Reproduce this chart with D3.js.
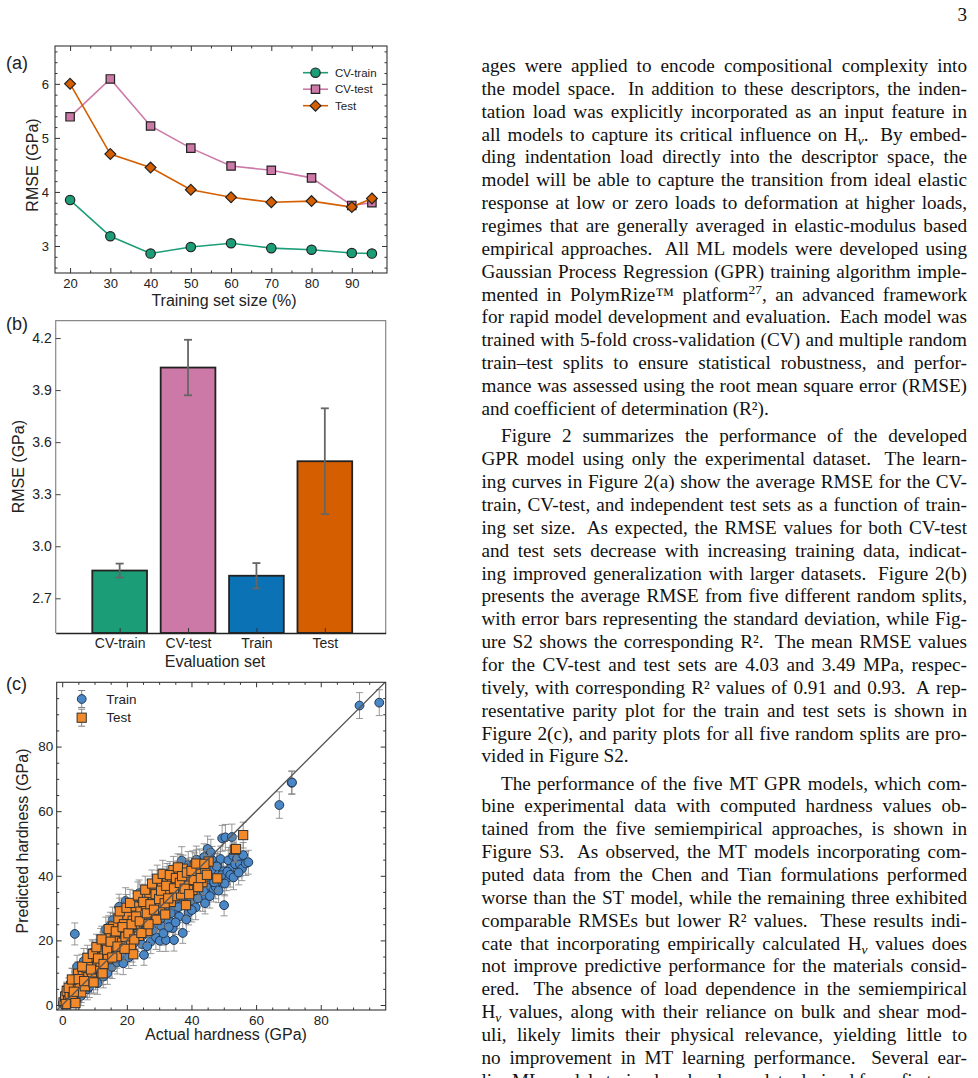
<!DOCTYPE html>
<html>
<head>
<meta charset="utf-8">
<script src="https://cdn.jsdelivr.net/npm/d3@7"></script>
<style>
body{margin:0;background:#fff;width:978px;height:1078px;overflow:hidden}
svg{display:block}
</style>
</head>
<body>
<svg id="page" width="978" height="1078"></svg>
<script>
// ---- data: (a) learning curves
const trainSizes = [20, 30, 40, 50, 60, 70, 80, 90, 95];
const cvTrainRmse = [3.85, 3.18, 2.86, 2.98, 3.05, 2.96, 2.93, 2.87, 2.86];
const cvTestRmse = [5.39, 6.09, 5.22, 4.81, 4.48, 4.40, 4.26, 3.75, 3.80];
const testRmse = [6.00, 4.70, 4.45, 4.04, 3.90, 3.81, 3.83, 3.72, 3.88];

// ---- data: (b) mean RMSE over five splits
const evalSets = ['CV-train', 'CV-test', 'Train', 'Test'];
const evalMean = [2.86, 4.03, 2.83, 3.49];
const evalStd = [0.04, 0.16, 0.073, 0.305];

// ---- data: (c) parity plot  [actual, predicted, std]
const parityTrain = [
 [0.2,0.6,1.2],[0.5,0.2,1.5],[0.9,1.8,2.2],[1.3,0.9,2.6],[1.7,3.1,3.0],[2.1,1.5,2.8],[2.6,4.4,3.2],[3.0,2.2,3.0],[3.5,5.6,3.4],[3.9,22.0,3.4],[4.2,3.4,3.1],[4.6,11.9,3.5],[4.8,6.9,3.6],
 [5.2,4.1,3.2],[5.6,8.4,3.7],[6.1,5.7,3.4],[6.5,10.6,3.8],[6.9,7.2,3.5],[7.3,12.1,3.9],[7.8,4.9,3.3],[8.2,9.3,3.6],[8.7,13.4,4.0],[9.1,6.8,3.4],[9.5,11.0,3.7],[9.9,14.6,4.0],
 [10.3,8.2,3.5],[10.7,12.7,3.8],[11.2,16.3,4.1],[11.6,9.9,3.6],[12.1,14.0,3.9],[12.5,18.4,4.2],[12.9,11.3,3.7],[13.5,23.4,3.8],[13.8,15.6,3.9],[14.2,20.1,4.1],[14.6,12.2,3.6],
 [15.1,17.2,4.0],[15.6,26.3,4.0],[15.9,14.1,3.7],[16.4,21.6,4.1],[16.8,18.3,3.9],[17.3,23.8,4.2],[17.6,30.4,3.9],[18.1,15.8,3.6],[18.5,20.9,4.0],[19.0,27.5,4.1],[19.4,17.7,3.8],[19.8,23.0,4.0],
 [20.3,19.4,3.8],[20.7,28.6,4.1],[21.2,22.1,3.9],[21.6,16.9,3.6],[22.1,25.8,4.0],[22.5,31.2,4.2],[23.0,20.4,3.8],[23.2,28.0,4.0],[23.8,34.6,4.1],[24.2,23.7,3.9],[24.7,18.8,3.7],
 [25.3,15.5,3.2],[25.6,27.1,4.0],[26.1,32.9,4.2],[26.5,22.6,3.9],[27.0,29.4,4.0],[27.4,19.6,3.7],[27.9,35.8,4.1],[28.3,25.2,3.9],[28.8,31.7,4.1],[29.0,21.0,3.8],[29.6,27.9,3.9],[30.0,37.4,4.2],
 [30.2,19.9,3.3],[30.6,24.5,3.8],[31.1,33.4,4.1],[31.5,28.7,3.9],[32.1,20.1,3.5],[32.4,38.6,4.2],[32.9,26.3,3.8],[33.3,31.2,4.0],[33.8,35.7,4.1],[34.2,23.8,3.7],[34.6,20.1,3.4],[34.9,29.6,3.9],
 [35.4,40.3,4.2],[35.8,33.1,4.0],[36.2,27.4,3.8],[36.7,36.9,4.1],[37.0,44.7,4.3],[37.3,22.3,3.2],[37.8,30.9,3.9],[38.2,41.2,4.2],[38.7,34.8,4.0],[39.1,28.6,3.8],[39.6,38.3,4.1],[39.9,32.4,3.9],
 [40.4,43.5,4.2],[40.8,36.1,4.0],[41.3,30.2,3.8],[41.7,40.1,4.1],[42.2,34.5,3.9],[42.6,44.1,4.2],[43.1,38.2,4.0],[43.5,32.8,3.8],[44.0,41.6,4.1],[44.2,31.5,3.3],[44.7,36.4,3.9],[45.0,48.3,4.0],
 [45.5,42.7,4.1],[45.9,38.9,3.9],[46.4,44.9,4.2],[46.8,35.6,3.7],[47.2,40.8,4.0],[47.5,36.5,3.6],[48.1,43.3,4.1],[48.6,38.4,3.8],[49.0,45.2,4.0],[49.5,51.6,4.0],[49.9,41.4,3.9],[50.1,30.9,3.3],
 [50.5,51.9,4.0],[50.9,39.2,3.8],[51.4,44.8,4.0],[51.8,42.1,3.9],[52.5,52.0,4.0],[52.9,46.2,4.0],[53.5,43.6,3.8],[54.1,45.3,3.9],[55.0,43.5,3.8],[55.6,42.2,3.7],[56.0,46.4,3.9],[56.8,43.8,3.7],[57.6,44.2,3.7],
 [1.0,3.5,2.5],[2.0,0.5,2.4],[3.2,7.8,3.5],[4.4,1.5,2.8],[5.8,2.8,3.0],[6.7,13.6,3.9],[7.6,9.8,3.7],[8.4,5.6,3.3],[9.3,16.2,4.0],[10.1,11.1,3.8],[10.9,6.7,3.4],[11.9,19.6,4.1],
 [12.7,8.8,3.5],[13.2,17.4,4.0],[14.0,9.9,3.5],[14.9,24.6,4.1],[15.4,11.8,3.6],[16.1,19.0,3.9],[17.0,13.2,3.6],[18.3,25.1,4.1],[18.9,12.9,3.5],[19.6,32.2,4.1],[20.6,14.8,3.5],[21.4,26.9,4.0],
 [22.3,19.3,3.7],[23.5,25.9,4.0],[24.4,30.8,4.1],[25.0,21.6,3.8],[26.3,18.2,3.6],[26.9,30.6,4.1],[28.0,23.1,3.8],[29.3,33.9,4.1],[30.4,26.8,3.9],[31.3,22.2,3.7],[31.8,36.3,4.2],[33.0,24.1,3.8],
 [33.6,28.4,3.9],[34.4,33.0,4.0],[35.1,25.6,3.8],[36.0,30.3,3.9],[36.5,42.4,4.2],[37.6,35.6,4.0],[38.4,26.5,3.7],[39.3,36.6,4.0],[40.1,29.4,3.7],[41.0,38.6,4.0],[41.9,33.0,3.8],[42.9,40.8,4.1],
 [43.8,35.2,3.9],[44.6,39.5,4.0],[45.7,33.7,3.7],[46.2,41.9,4.0],[47.0,38.0,3.8],[47.8,42.9,4.0],[48.4,35.4,3.7],[49.3,40.2,3.9],[50.3,37.6,3.8],[51.1,41.3,3.9],[52.0,40.3,3.8],[53.0,39.5,3.8],
 [54.6,41.0,3.8],[46.0,47.2,4.1],[43.9,45.8,4.1],[41.5,45.0,4.2],[39.0,43.3,4.2],
 [67.2,61.9,4.1],[71.0,68.8,3.6],[71.1,68.9,3.5],[92.0,92.7,4.0],[98.1,93.6,4.0]
];
const parityTest = [
 [0.4,0.8,1.5],[0.9,2.6,2.2],[1.4,4.3,2.8],[1.8,1.2,2.5],[2.3,3.5,3.0],[2.8,5.9,3.3],[3.3,2.4,3.0],[3.8,6.8,3.4],[4.1,0.6,2.6],[4.5,4.9,3.2],[4.9,9.7,3.7],
 [5.4,6.3,3.4],[5.9,3.9,3.1],[6.4,9.0,3.6],[7.0,5.8,3.3],[7.5,11.4,3.8],[8.1,8.6,3.5],[8.6,13.2,3.9],[9.2,10.1,3.6],[9.7,7.0,3.3],
 [10.3,14.9,3.9],[10.8,11.7,3.7],[11.4,17.6,4.0],[11.9,13.4,3.8],[12.5,9.8,3.5],[13.0,16.0,3.9],[13.6,19.5,4.0],[14.1,14.2,3.8],[14.7,21.7,4.1],
 [15.2,17.7,3.9],[15.8,24.3,4.1],[16.3,20.2,4.0],[16.9,15.1,3.7],[17.4,26.8,4.1],[18.0,22.6,4.0],[18.5,19.3,3.8],[19.1,25.0,4.0],[19.6,21.1,3.9],
 [20.2,27.9,4.1],[20.7,23.6,4.0],[21.3,18.4,3.7],[21.8,26.1,4.0],[22.0,15.7,3.5],[22.6,30.5,4.1],[23.1,24.8,4.0],[23.7,21.4,3.8],[24.2,28.9,4.1],[24.8,33.2,4.2],
 [25.3,25.7,4.0],[25.9,30.7,4.1],[26.4,22.9,3.9],[27.0,34.5,4.2],[27.5,28.3,4.0],[28.1,31.8,4.1],[28.6,36.2,4.2],[29.2,26.4,3.9],[29.7,33.6,4.1],
 [30.3,30.2,4.0],[30.8,37.9,4.2],[31.4,34.1,4.1],[31.9,28.0,3.9],[32.5,39.6,4.2],[33.0,35.4,4.1],[33.6,31.9,4.0],[34.0,38.3,4.1],[34.4,41.8,4.2],[34.9,33.7,4.0],
 [35.5,36.8,4.1],[36.1,40.4,4.2],[36.8,34.2,4.0],[37.4,42.2,4.2],[38.3,30.9,3.8],[38.9,37.5,4.1],[39.6,39.8,4.1],[40.3,35.6,4.0],[41.0,42.9,4.2],[41.8,37.2,4.0],[42.5,40.6,4.1],[43.4,38.0,4.0],[44.3,42.1,4.1],[45.3,44.4,4.2],[48.0,39.2,3.9],
 [1.1,0.3,2.0],[2.0,5.3,3.1],[3.0,7.9,3.5],[3.6,4.1,3.1],[5.1,8.0,3.5],[6.2,11.9,3.8],[6.8,7.4,3.4],[7.8,14.6,3.9],[8.9,11.0,3.7],[9.5,15.8,4.0],[10.6,17.9,4.0],[11.1,14.4,3.8],
 [12.2,20.3,4.1],[12.8,12.7,3.7],[13.9,17.1,3.9],[14.4,23.5,4.1],[15.0,19.6,4.0],[15.5,14.7,3.7],[16.6,22.8,4.0],[17.1,18.1,3.8],[17.8,29.0,4.1],[18.7,24.1,4.0],[19.3,17.4,3.8],[19.9,30.1,4.1],
 [20.5,22.2,3.9],[21.0,31.6,4.2],[21.5,25.0,4.0],[22.3,20.3,3.8],[22.9,27.4,4.0],[23.4,33.9,4.2],[24.0,25.9,4.0],[24.5,22.3,3.8],[25.1,31.9,4.1],[25.7,35.7,4.2],[26.2,28.4,4.0],[26.7,25.0,3.9],
 [27.3,31.2,4.1],[27.8,37.6,4.2],[28.4,29.5,4.0],[28.9,34.3,4.1],[29.4,39.1,4.2],[30.0,32.8,4.1],[30.6,35.4,4.1],[31.1,40.6,4.2],[31.7,31.5,4.0],[32.2,36.9,4.1],[32.8,33.0,4.0],[33.3,40.2,4.2],
 [34.6,36.1,4.1],[35.2,39.3,4.1],[35.8,42.6,4.2],[36.4,37.8,4.1],[37.1,39.9,4.1],[37.9,36.0,4.0],[38.6,41.0,4.1],[39.3,34.3,4.0],[40.0,41.5,4.1],[40.7,38.7,4.0],[41.5,43.8,4.2],[42.1,36.5,4.0],
 [42.9,39.3,4.0],[44.0,43.7,4.1],[44.8,40.3,4.0],
 [53.4,48.1,4.0],[53.8,48.3,4.0],[56.0,52.6,4.0]
];

// ---- page text (one entry per printed line, _{..} subscript, ^{..} superscript)
const para1 = [
 'ages were applied to encode compositional complexity into',
 'the model space.  In addition to these descriptors, the inden-',
 'tation load was explicitly incorporated as an input feature in',
 'all models to capture its critical influence on H_{ν}.  By embed-',
 'ding indentation load directly into the descriptor space, the',
 'model will be able to capture the transition from ideal elastic',
 'response at low or zero loads to deformation at higher loads,',
 'regimes that are generally averaged in elastic-modulus based',
 'empirical approaches.  All ML models were developed using',
 'Gaussian Process Regression (GPR) training algorithm imple-',
 'mented in PolymRize™ platform^{27}, an advanced framework',
 'for rapid model development and evaluation.  Each model was',
 'trained with 5-fold cross-validation (CV) and multiple random',
 'train–test splits to ensure statistical robustness, and perfor-',
 'mance was assessed using the root mean square error (RMSE)',
 'and coefficient of determination (R²).'
];
const para2 = [
 'Figure 2 summarizes the performance of the developed',
 'GPR model using only the experimental dataset.  The learn-',
 'ing curves in Figure 2(a) show the average RMSE for the CV-',
 'train, CV-test, and independent test sets as a function of train-',
 'ing set size.  As expected, the RMSE values for both CV-test',
 'and test sets decrease with increasing training data, indicat-',
 'ing improved generalization with larger datasets.  Figure 2(b)',
 'presents the average RMSE from five different random splits,',
 'with error bars representing the standard deviation, while Fig-',
 'ure S2 shows the corresponding R².  The mean RMSE values',
 'for the CV-test and test sets are 4.03 and 3.49 MPa, respec-',
 'tively, with corresponding R² values of 0.91 and 0.93.  A rep-',
 'resentative parity plot for the train and test sets is shown in',
 'Figure 2(c), and parity plots for all five random splits are pro-',
 'vided in Figure S2.'
];
const para3 = [
 'The performance of the five MT GPR models, which com-',
 'bine experimental data with computed hardness values ob-',
 'tained from the five semiempirical approaches, is shown in',
 'Figure S3.  As observed, the MT models incorporating com-',
 'puted data from the Chen and Tian formulations performed',
 'worse than the ST model, while the remaining three exhibited',
 'comparable RMSEs but lower R² values.  These results indi-',
 'cate that incorporating empirically calculated H_{ν} values does',
 'not improve predictive performance for the materials consid-',
 'ered.  The absence of load dependence in the semiempirical',
 'H_{ν} values, along with their reliance on bulk and shear mod-',
 'uli, likely limits their physical relevance, yielding little to',
 'no improvement in MT learning performance.  Several ear-',
 'lier ML models trained on hardness data derived from first'
];

const sans = "'Liberation Sans', Arial, Helvetica, sans-serif";
const serif = "'Liberation Serif', 'Times New Roman', serif";
const svg = d3.select('#page');

//inward ticks on the four sides of a box, labels on bottom and left only
function boxAxes(g, x, y, o) {
	const xr = x.range(), yr = y.range();
	const sides = [
		{f: d3.axisBottom, s: x, t: `translate(0,${yr[0]})`, lab: true, pad: o.xPad, ticks: o.xTicks, minor: o.xMinor, fmt: o.xFmt},
		{f: d3.axisTop, s: x, t: `translate(0,${yr[1]})`, lab: false, ticks: o.xTicks, minor: o.xMinor},
		{f: d3.axisLeft, s: y, t: `translate(${xr[0]},0)`, lab: true, pad: o.yPad, ticks: o.yTicks, minor: o.yMinor, fmt: o.yFmt},
		{f: d3.axisRight, s: y, t: `translate(${xr[1]},0)`, lab: false, ticks: o.yTicks, minor: o.yMinor}
	];
	sides.forEach(d => {
		if (d.minor) {
			g.append('g').attr('transform', d.t)
				.call(d.f(d.s).tickValues(d.minor).tickSizeInner(-2.5).tickSizeOuter(0).tickFormat(''))
				.attr('color', '#333')
				.call(s => s.select('.domain').remove());
		}
		const ax = g.append('g').attr('transform', d.t)
			.call(d.f(d.s).tickValues(d.ticks).tickSizeInner(-5).tickSizeOuter(0)
				.tickPadding(d.lab ? d.pad : 0).tickFormat(d.lab ? d.fmt : () => ''))
			.attr('color', '#333')
			.attr('font-family', sans)
			.attr('font-size', o.fs);
		ax.select('.domain').remove();
		ax.selectAll('text').attr('fill', '#222');
	});
	g.append('rect')
		.attr('x', xr[0]).attr('y', yr[1])
		.attr('width', xr[1] - xr[0]).attr('height', yr[0] - yr[1])
		.attr('fill', 'none').attr('stroke', '#333').attr('stroke-width', 1.1);
}

function axisTitle(g, txt, x, y, rot, fs) {
	g.append('text')
		.attr('transform', `translate(${x},${y})` + (rot ? ' rotate(-90)' : ''))
		.attr('text-anchor', 'middle')
		.attr('font-family', sans)
		.attr('font-size', fs)
		.attr('fill', '#222')
		.text(txt);
}

function panelTag(txt, y) {
	svg.append('text').attr('x', 6).attr('y', y)
		.attr('font-family', sans).attr('font-size', 18).attr('fill', '#222')
		.text(txt);
}

const diamond = 'M0,-5.4L5.4,0L0,5.4L-5.4,0Z';
const square = 'M-4.2,-4.2H4.2V4.2H-4.2Z';

// ================= (a) learning curves =================
const gA = svg.append('g');
const xA = d3.scaleLinear().domain([16.25, 98.75]).range([55, 387]);
const yA = d3.scaleLinear().domain([2.5, 6.7]).range([273, 46]);

boxAxes(gA, xA, yA, {
	xTicks: d3.range(20, 91, 10), xMinor: d3.range(25, 96, 10), xPad: 5.5, xFmt: d3.format('d'),
	yTicks: [3, 4, 5, 6], yMinor: d3.range(2.6, 6.65, 0.2).filter(v => Math.abs(v - Math.round(v)) > 0.05), yPad: 6, yFmt: d3.format('d'),
	fs: 13
});

const seriesA = [
	{name: 'CV-train', vals: cvTrainRmse, color: '#1b9e77', mark: 'circle'},
	{name: 'CV-test', vals: cvTestRmse, color: '#cc79a7', mark: 'square'},
	{name: 'Test', vals: testRmse, color: '#d55e00', mark: 'diamond'}
];
const lineA = d3.line().x((d, i) => xA(trainSizes[i])).y(d => yA(d));

function marker(sel, kind, color) {
	if (kind === 'circle') {
		sel.append('circle').attr('r', 4.7);
	} else {
		sel.append('path').attr('d', kind === 'square' ? square : diamond);
	}
	sel.selectAll('circle,path')
		.attr('fill', color).attr('stroke', '#222').attr('stroke-width', 1.2);
}

seriesA.forEach(s => {
	gA.append('path').datum(s.vals)
		.attr('d', lineA)
		.attr('fill', 'none')
		.attr('stroke', s.color)
		.attr('stroke-width', 1.6);
	gA.selectAll(null).data(s.vals).enter()
		.append('g')
		.attr('transform', (d, i) => `translate(${xA(trainSizes[i])},${yA(d)})`)
		.each(function() { marker(d3.select(this), s.mark, s.color); });
});

//legend
const legA = gA.append('g').attr('transform', 'translate(303,72.7)');
seriesA.forEach((s, i) => {
	const row = legA.append('g').attr('transform', `translate(0,${i * 16.5})`);
	row.append('line').attr('x1', 0).attr('x2', 25).attr('stroke', s.color).attr('stroke-width', 1.6);
	const m = row.append('g').attr('transform', 'translate(12.5,0)');
	marker(m, s.mark, s.color);
	row.append('text').attr('x', 32).attr('dy', '0.35em')
		.attr('font-family', sans).attr('font-size', 11.5).attr('fill', '#222')
		.text(s.name);
});

axisTitle(gA, 'Training set size (%)', 224, 305.5, false, 16);
axisTitle(gA, 'RMSE (GPa)', 37.5, 165, true, 16);
panelTag('(a)', 68.5);

// ================= (b) bar chart =================
const gB = svg.append('g');
const xB = d3.scaleLinear().domain([-0.935, 3.89]).range([55.7, 385.7]);
const yB = d3.scaleLinear().domain([2.5, 4.3]).range([633, 320.7]);
const barColors = ['#1b9e77', '#cc79a7', '#0b72b5', '#d55e00'];
const barW = xB(0.4) - xB(-0.4);

gB.append('path')
	.attr('d', `M55.7,633V320.7H385.7V633`)
	.attr('fill', 'none').attr('stroke', '#888').attr('stroke-width', 1.2);

gB.selectAll('.bar').data(evalMean).enter()
	.append('rect').attr('class', 'bar')
	.attr('x', (d, i) => xB(i) - barW / 2)
	.attr('y', d => yB(d))
	.attr('width', barW)
	.attr('height', d => yB(2.5) - yB(d))
	.attr('fill', (d, i) => barColors[i])
	.attr('stroke', '#222').attr('stroke-width', 1.8);

const errB = gB.selectAll('.err').data(evalMean).enter()
	.append('g').attr('class', 'err')
	.attr('stroke', '#666').attr('stroke-width', 1.8);
errB.append('line')
	.attr('x1', (d, i) => xB(i)).attr('x2', (d, i) => xB(i))
	.attr('y1', (d, i) => yB(d - evalStd[i])).attr('y2', (d, i) => yB(d + evalStd[i]));
errB.append('line')
	.attr('x1', (d, i) => xB(i) - 4).attr('x2', (d, i) => xB(i) + 4)
	.attr('y1', (d, i) => yB(d - evalStd[i])).attr('y2', (d, i) => yB(d - evalStd[i]));
errB.append('line')
	.attr('x1', (d, i) => xB(i) - 4).attr('x2', (d, i) => xB(i) + 4)
	.attr('y1', (d, i) => yB(d + evalStd[i])).attr('y2', (d, i) => yB(d + evalStd[i]));

const axBx = gB.append('g').attr('transform', 'translate(0,633)')
	.call(d3.axisBottom(xB).tickValues([0, 1, 2, 3]).tickSizeInner(-5).tickSizeOuter(0)
		.tickPadding(5).tickFormat(i => evalSets[i]))
	.attr('color', '#333').attr('font-family', sans).attr('font-size', 14);
axBx.select('.domain').attr('stroke', '#222').attr('stroke-width', 1.3);
axBx.selectAll('text').attr('fill', '#222');
const axBy = gB.append('g').attr('transform', 'translate(55.7,0)')
	.call(d3.axisLeft(yB).tickValues([2.7, 3.0, 3.3, 3.6, 3.9, 4.2]).tickSizeInner(-5).tickSizeOuter(0)
		.tickPadding(4).tickFormat(d3.format('.1f')))
	.attr('color', '#444').attr('font-family', sans).attr('font-size', 14);
axBy.select('.domain').remove();
axBy.selectAll('text').attr('fill', '#222');

axisTitle(gB, 'Evaluation set', 215, 667, false, 16);
axisTitle(gB, 'RMSE (GPa)', 23.5, 466.7, true, 16);
panelTag('(b)', 329.5);

// ================= (c) parity plot =================
const gC = svg.append('g');
const xC = d3.scaleLinear().domain([-1.7, 100.1]).range([56.7, 385.7]);
const yC = d3.scaleLinear().domain([-1.55, 99.9]).range([1010, 682.3]);

gC.append('clipPath').attr('id', 'clipC')
	.append('rect').attr('x', 56.7).attr('y', 682.3).attr('width', 329).attr('height', 327.7);
const plotC = gC.append('g').attr('clip-path', 'url(#clipC)');

function errorBars(g, data) {
	const eb = g.append('g').attr('stroke', '#808080').attr('stroke-width', 1).attr('stroke-opacity', 0.8);
	const sel = eb.selectAll('g').data(data).enter().append('g');
	sel.append('line')
		.attr('x1', d => xC(d[0])).attr('x2', d => xC(d[0]))
		.attr('y1', d => yC(d[1] - d[2])).attr('y2', d => yC(d[1] + d[2]));
	[-1, 1].forEach(k => {
		sel.append('line')
			.attr('x1', d => xC(d[0]) - 3.5).attr('x2', d => xC(d[0]) + 3.5)
			.attr('y1', d => yC(d[1] + k * d[2])).attr('y2', d => yC(d[1] + k * d[2]));
	});
}

errorBars(plotC, parityTrain);
plotC.append('g').selectAll('circle').data(parityTrain).enter()
	.append('circle')
	.attr('cx', d => xC(d[0])).attr('cy', d => yC(d[1]))
	.attr('r', 4.4)
	.attr('fill', '#4a87c6').attr('stroke', '#23364f').attr('stroke-width', 1);

errorBars(plotC, parityTest);
plotC.append('g').selectAll('rect').data(parityTest).enter()
	.append('rect')
	.attr('x', d => xC(d[0]) - 4.6).attr('y', d => yC(d[1]) - 4.6)
	.attr('width', 9.2).attr('height', 9.2)
	.attr('fill', '#f28a2b').attr('stroke', '#333').attr('stroke-width', 1);

plotC.append('line')
	.attr('x1', xC(-1.7)).attr('y1', yC(-1.7))
	.attr('x2', xC(100.1)).attr('y2', yC(100.1))
	.attr('stroke', '#555').attr('stroke-width', 1.3);

boxAxes(gC, xC, yC, {
	xTicks: d3.range(0, 81, 20), xMinor: d3.range(5, 100, 5).filter(v => v % 20), xPad: 5.5, xFmt: d3.format('d'),
	yTicks: d3.range(0, 81, 20), yMinor: d3.range(5, 100, 5).filter(v => v % 20), yPad: 3.5, yFmt: d3.format('d'),
	fs: 13.5
});

//legend
const legC = gC.append('g');
[{name: 'Train', y: 699, sq: false}, {name: 'Test', y: 717.7, sq: true}].forEach(l => {
	const r = legC.append('g').attr('transform', `translate(81.7,${l.y})`);
	r.append('line').attr('y1', -8.5).attr('y2', 8.5).attr('stroke', '#808080');
	r.append('line').attr('x1', -3.5).attr('x2', 3.5).attr('y1', -8.5).attr('y2', -8.5).attr('stroke', '#808080');
	r.append('line').attr('x1', -3.5).attr('x2', 3.5).attr('y1', 8.5).attr('y2', 8.5).attr('stroke', '#808080');
	if (l.sq) {
		r.append('rect').attr('x', -4.6).attr('y', -4.6).attr('width', 9.2).attr('height', 9.2)
			.attr('fill', '#f28a2b').attr('stroke', '#333');
	} else {
		r.append('circle').attr('r', 4.4).attr('fill', '#4a87c6').attr('stroke', '#23364f');
	}
	r.append('text').attr('x', 24.5).attr('dy', '0.35em')
		.attr('font-family', sans).attr('font-size', 13.5).attr('fill', '#222')
		.text(l.name);
});

axisTitle(gC, 'Actual hardness (GPa)', 226, 1040, false, 16);
axisTitle(gC, 'Predicted hardness (GPa)', 28, 841, true, 16);
panelTag('(c)', 689.5);

// ================= page text =================
const textLeft = 481.5, textRight = 967, lead = 22.86, fsText = 19.2;
const gT = svg.append('g').attr('font-family', serif).attr('font-size', fsText).attr('fill', '#111');

gT.append('text').attr('x', textRight).attr('y', 20.7).attr('text-anchor', 'end').text('3');

//write one word, with sub / superscript pieces
function writeWord(g, word) {
	const t = g.append('text');
	const parts = word.split(/(_\{[^}]*\}|\^\{[^}]*\})/).filter(p => p.length);
	let shift = 0;
	parts.forEach(p => {
		if (p[0] === '_' || p[0] === '^') {
			const d = p[0] === '_' ? 4 : -7;
			t.append('tspan').attr('dy', d - shift).attr('font-size', fsText * 0.7)
				.attr('font-style', p[0] === '_' ? 'italic' : null)
				.text(p.slice(2, -1));
			shift = d;
		} else {
			t.append('tspan').attr('dy', -shift).text(p);
			shift = 0;
		}
	});
	return t;
}

function paragraph(lines, y0, indent) {
	lines.forEach((line, li) => {
		const y = y0 + li * lead;
		const x0 = textLeft + (li === 0 ? indent : 0);
		const g = gT.append('g').attr('transform', `translate(0,${y})`);
		//split on spaces, remember sentence gaps (double space)
		const tokens = line.split(/( {1,2})/);
		const words = [], gaps = [];
		tokens.forEach(tk => {
			if (tk.trim() === '') gaps.push(tk.length);
			else words.push(tk);
		});
		const nodes = words.map(w => writeWord(g, w));
		const widths = nodes.map(n => n.node().getComputedTextLength());
		const sp = fsText * 0.25;
		const natural = gaps.map(k => k > 1 ? sp * 1.6 : sp);
		const stretch = gaps.map(k => k > 1 ? 2 : 1);
		const last = li === lines.length - 1;
		let extra = 0;
		if (!last && gaps.length) {
			extra = (textRight - x0 - d3.sum(widths) - d3.sum(natural)) / d3.sum(stretch);
		}
		let x = x0;
		nodes.forEach((n, i) => {
			n.attr('x', x);
			x += widths[i];
			if (i < gaps.length) x += natural[i] + extra * stretch[i];
		});
	});
}

paragraph(para1, 72, 0);
paragraph(para2, 442.4, 19.5);
paragraph(para3, 789.6, 19.5);
</script>
</body>
</html>
